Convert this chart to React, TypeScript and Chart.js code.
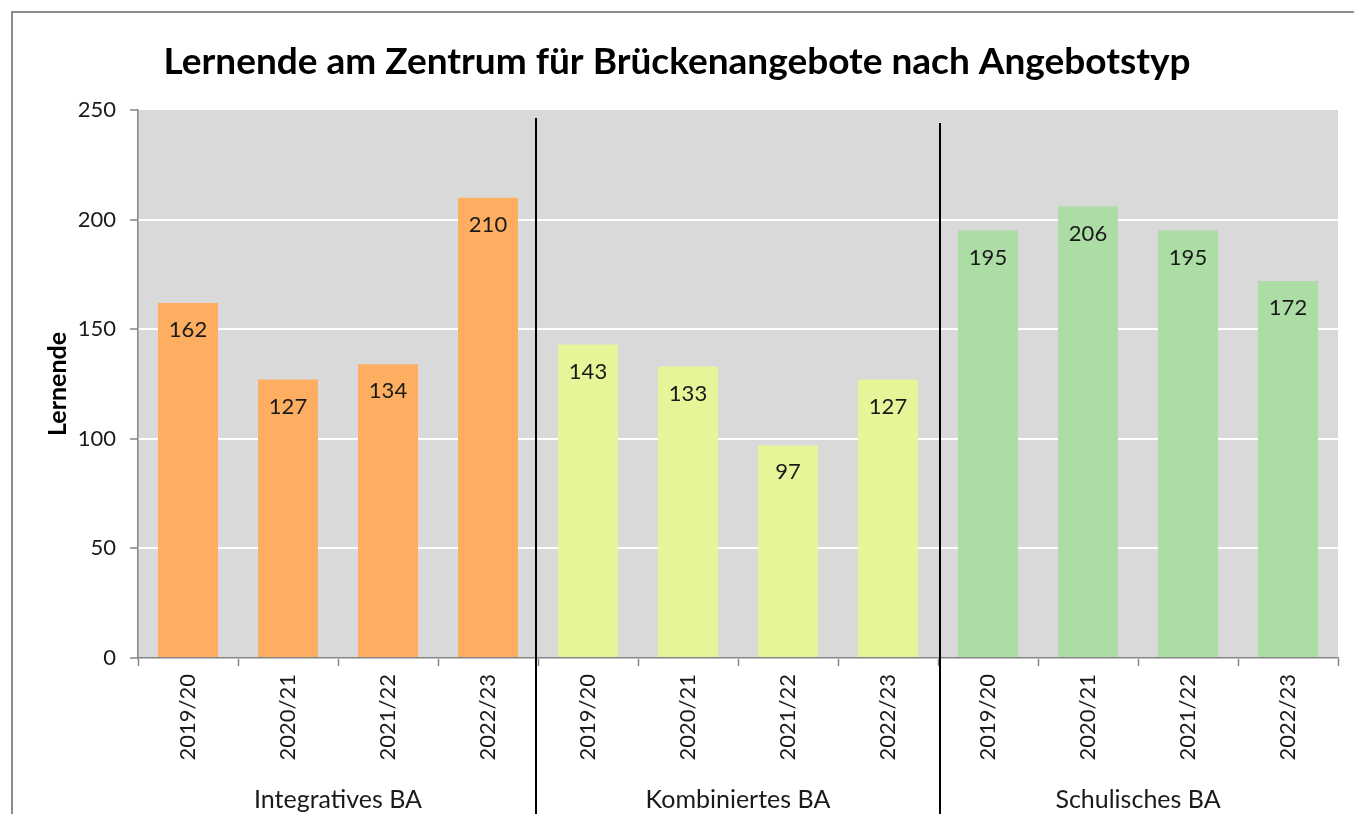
import { useEffect, useRef } from "react";
import { Chart, registerables } from "chart.js";

Chart.register(...registerables);

const titleText = "Lernende am Zentrum für Brückenangebote nach Angebotstyp";
const yAxisTitle = "Lernende";
const groups = ["Integratives BA", "Kombiniertes BA", "Schulisches BA"];
const years = ["2019/20", "2020/21", "2021/22", "2022/23"];
const integrativ = [162, 127, 134, 210];
const kombiniert = [143, 133, 97, 127];
const schulisch = [195, 206, 195, 172];
const groupColors = ["#fdae61", "#e6f598", "#abdda4"];
const yMin = 0;
const yMax = 250;
const yStep = 50;

const FONT = 'Lato, "Open Sans", "DejaVu Sans", sans-serif';

export default function App() {
  const ref = useRef<HTMLCanvasElement | null>(null);

  useEffect(() => {
    const canvas = ref.current;
    if (!canvas) return;
    const groupValues = [integrativ, kombiniert, schulisch];
    const labels: string[] = [];
    const values: number[] = [];
    const colors: string[] = [];
    groupValues.forEach((vals, gi) => {
      vals.forEach((v, i) => {
        labels.push(years[i]);
        values.push(v);
        colors.push(groupColors[gi]);
      });
    });

    const overlay = {
      id: "overlay",
      beforeDraw(chart: any) {
        const { ctx, chartArea, width, height } = chart;
        ctx.save();
        ctx.fillStyle = "#ffffff";
        ctx.fillRect(0, 0, width, height);
        ctx.fillStyle = "#d9d9d9";
        ctx.fillRect(chartArea.left, chartArea.top, chartArea.right - chartArea.left, chartArea.bottom - chartArea.top);
        ctx.restore();
      },
      afterDatasetsDraw(chart: any) {
        const { ctx } = chart;
        const meta = chart.getDatasetMeta(0);
        ctx.save();
        ctx.font = `22px ${FONT}`;
        ctx.fillStyle = "#1a1a1a";
        ctx.textAlign = "center";
        ctx.textBaseline = "middle";
        meta.data.forEach((bar: any, i: number) => {
          ctx.fillText(String(values[i]), bar.x, bar.y + 27);
        });
        ctx.restore();
      },
      afterDraw(chart: any) {
        const { ctx, chartArea, width, height } = chart;
        const x = chart.scales.x;
        ctx.save();
        // frame
        ctx.strokeStyle = "#8c8c8c";
        ctx.lineWidth = 2;
        ctx.beginPath();
        ctx.moveTo(12, height);
        ctx.lineTo(12, 12);
        ctx.lineTo(width, 12);
        ctx.stroke();
        // separators
        ctx.strokeStyle = "#000000";
        ctx.lineWidth = 2;
        const n = years.length;
        for (let g = 1; g < groups.length; g++) {
          const px = x.getPixelForValue(g * n - 0.5) + (g === 1 ? -2 : 2);
          ctx.beginPath();
          ctx.moveTo(px, chartArea.top + 8 + (g - 1) * 5);
          ctx.lineTo(px, height);
          ctx.stroke();
        }
        // group labels
        ctx.fillStyle = "#1a1a1a";
        ctx.font = `25px ${FONT}`;
        ctx.textAlign = "center";
        ctx.textBaseline = "middle";
        groups.forEach((gname, g) => {
          const px = x.getPixelForValue(g * n + (n - 1) / 2);
          ctx.fillText(gname, px, 800);
        });
        // title
        ctx.fillStyle = "#000000";
        ctx.font = `bold 37px ${FONT}`;
        ctx.fillText(titleText, width / 2, 62);
        // y-axis title
        ctx.font = `bold 25px ${FONT}`;
        ctx.translate(58, (chartArea.top + chartArea.bottom) / 2);
        ctx.rotate(-Math.PI / 2);
        ctx.fillText(yAxisTitle, 0, 0);
        ctx.restore();
      },
    };

    const chart = new Chart(canvas, {
      type: "bar",
      data: {
        labels,
        datasets: [
          {
            data: values,
            backgroundColor: colors,
            borderWidth: 0,
            barPercentage: 0.6,
            categoryPercentage: 1.0,
          },
        ],
      },
      options: {
        responsive: false,
        animation: false,
        devicePixelRatio: 1,
        layout: { padding: { top: 110, right: 16, left: 0, bottom: 0 } },
        plugins: {
          legend: { display: false },
          tooltip: { enabled: false },
          title: { display: false },
        },
        scales: {
          x: {
            offset: true,
            afterFit(scale: any) {
              scale.height = 156;
            },
            grid: {
              display: true,
              offset: true,
              drawOnChartArea: false,
              drawTicks: true,
              tickLength: 8,
              tickColor: "#868686",
              tickWidth: 1.5,
            },
            border: { display: true, color: "#868686", width: 1.5 },
            ticks: {
              minRotation: 90,
              maxRotation: 90,
              autoSkip: false,
              padding: 8,
              color: "#1a1a1a",
              font: { family: FONT, size: 22 },
            },
          },
          y: {
            min: yMin,
            max: yMax,
            afterFit(scale: any) {
              scale.width = 138;
            },
            grid: {
              color: (c: any) => (c.tick && c.tick.value === yMax ? "rgba(0,0,0,0)" : "#ffffff"),
              lineWidth: 2,
              tickLength: 8,
              tickColor: "#868686",
              tickWidth: 1.5,
            },
            border: { display: true, color: "#868686", width: 1.5 },
            ticks: {
              stepSize: yStep,
              padding: 14,
              color: "#1a1a1a",
              font: { family: FONT, size: 22 },
            },
          },
        },
      },
      plugins: [overlay],
    });
    return () => chart.destroy();
  }, []);

  return (
    <div style={{ position: "absolute", left: 0, top: 0, width: 1354, height: 814 }}>
      <canvas ref={ref} width={1354} height={814} style={{ display: "block" }} />
    </div>
  );
}
